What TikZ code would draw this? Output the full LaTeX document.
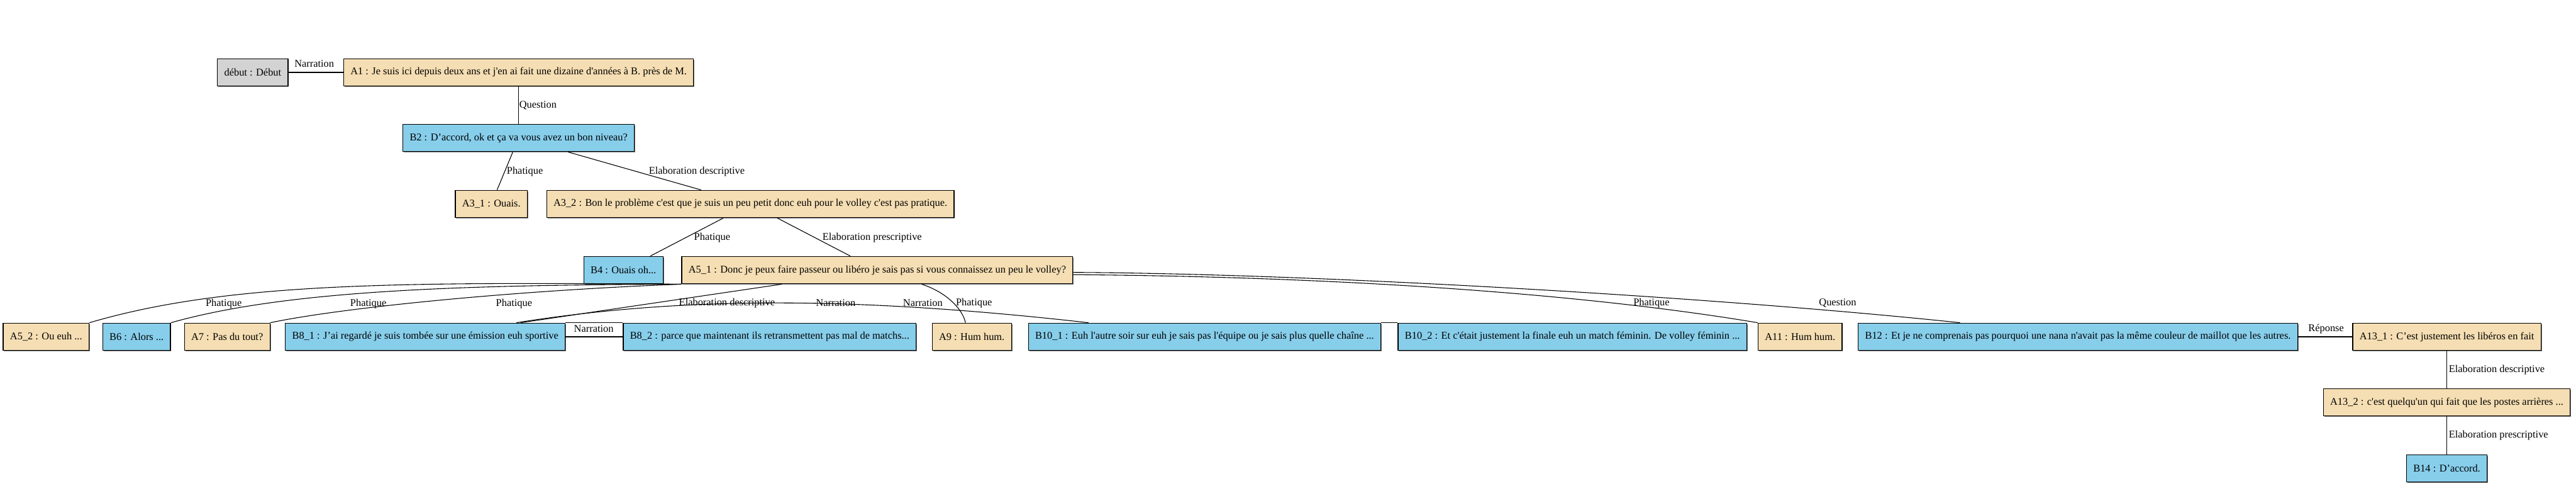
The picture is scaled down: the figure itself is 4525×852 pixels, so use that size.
\documentclass[tikz,border=0pt]{standalone}
\usepackage{fontspec}
\setmainfont{Liberation Serif}[Ligatures=TeXOff]
\usetikzlibrary{shadows}

\definecolor{wheat}{HTML}{F5DEB3}
\definecolor{skyblue}{HTML}{87CEEB}
\definecolor{gris}{HTML}{D3D3D3}

\begin{document}
\begin{tikzpicture}[x=1pt, y=-1pt, line width=1.2pt,
	every node/.style={font=\fontsize{18.1}{22}\selectfont},
	tour/.style={draw, line width=1.4pt, minimum height=48pt, inner xsep=12pt, inner ysep=0pt,
		drop shadow={shadow xshift=1.5pt, shadow yshift=-1.5pt, fill=black!55, opacity=1}},
	tourA/.style={tour, fill=wheat},
	tourB/.style={tour, fill=skyblue},
	rel/.style={inner sep=1pt}]
	\useasboundingbox (0,0) rectangle (4525,852);

	% les tours de parole
	\node[tour, fill=gris] (debut) at (444,127) {début : Début};
	\node[tourA] (a1) at (911,127) {A1 : Je suis ici depuis deux ans et j'en ai fait une dizaine d'années à B. près de M.};
	\node[tourB] (b2) at (911,242) {B2 : D’accord, ok et ça va vous avez un bon niveau?};
	\node[tourA] (a3_1) at (863,358) {A3\_1 : Ouais.};
	\node[tourA] (a3_2) at (1318,358) {A3\_2 : Bon le problème c'est que je suis un peu petit donc euh pour le volley c'est pas pratique.};
	\node[tourB] (b4) at (1095,474) {B4 : Ouais oh...};
	\node[tourA] (a5_1) at (1541,474) {A5\_1 : Donc je peux faire passeur ou libéro je sais pas si vous connaissez un peu le volley?};

	\node[tourA] (a5_2) at (81,591) {A5\_2 : Ou euh ...};
	\node[tourB] (b6) at (240,591) {B6 : Alors ...};
	\node[tourA] (a7) at (399,591) {A7 : Pas du tout?};
	\node[tourB] (b8_1) at (747,591) {B8\_1 : J’ai regardé je suis tombée sur une émission euh sportive};
	\node[tourB] (b8_2) at (1352,591) {B8\_2 : parce que maintenant ils retransmettent pas mal de matchs...};
	\node[tourA] (a9) at (1707,591) {A9 : Hum hum.};
	\node[tourB] (b10_1) at (2116,591) {B10\_1 : Euh l'autre soir sur euh je sais pas l'équipe ou je sais plus quelle chaîne ...};
	\node[tourB] (b10_2) at (2762,591) {B10\_2 : Et c'était justement la finale euh un match féminin. De volley féminin ...};
	\node[tourA] (a11) at (3162,591) {A11 : Hum hum.};
	\node[tourB] (b12) at (3650,591) {B12 : Et je ne comprenais pas pourquoi une nana n'avait pas la même couleur de maillot que les autres.};
	\node[tourA] (a13_1) at (4298,591) {A13\_1 : C’est justement les libéros en fait};
	\node[tourA] (a13_2) at (4298,706) {A13\_2 : c'est quelqu'un qui fait que les postes arrières ...};
	\node[tourB] (b14) at (4298,822) {B14 : D’accord.};

	% les relations
	\draw (debut) -- (a1);
	\draw (a1) -- (b2);
	\draw (b2) -- (a3_1);
	\draw (b2) -- (a3_2);
	\draw (a3_2) -- (b4);
	\draw (a3_2) -- (a5_1);
	\draw (a5_1.south west) .. controls (700,495) and (400,495) .. (a5_2.north east);
	\draw (a5_1.south west) .. controls (800,500) and (500,510) .. (b6.north east);
	\draw (a5_1.south west) .. controls (900,510) and (600,540) .. (a7.north east);
	\draw (a5_1) -- (b8_1);
	\draw (b8_1) -- (b8_2);
	\draw (b8_1.north east) -- (b8_2.north west);
	\draw ([xshift=160pt]b8_1.north) .. controls (1200,520) and (1500,520) .. ([xshift=-204pt]b10_1.north);
	\draw (b10_1.north east) -- (b10_2.north west);
	\draw ([xshift=78pt]a5_1.south) .. controls (1660,512) and (1690,540) .. ([xshift=-11pt]a9.north);
	\draw ([yshift=-8pt]a5_1.east) .. controls (2300,485) and (2750,510) .. (a11.north west);
	\draw ([yshift=-4pt]a5_1.east) .. controls (2300,480) and (3000,520) .. ([xshift=-207pt]b12.north);
	\draw (b12) -- (a13_1);
	\draw (a13_1) -- (a13_2);
	\draw (a13_2) -- (b14);

	% etiquettes
	\node[rel] (r_narr0) at (552,112) {Narration};
	\node[rel] (r_quest1) at (945,185) {Question};
	\node[rel] (r_phat2) at (922,301) {Phatique};
	\node[rel] (r_elab2) at (1224,301) {Elaboration descriptive};
	\node[rel] (r_phat3) at (1251,417) {Phatique};
	\node[rel] (r_elab3) at (1532,417) {Elaboration prescriptive};
	\node[rel] (r_phat5a) at (393,533) {Phatique};
	\node[rel] (r_phat5b) at (647,533) {Phatique};
	\node[rel] (r_phat5c) at (903,533) {Phatique};
	\node[rel] (r_elab5) at (1277,532) {Elaboration descriptive};
	\node[rel] (r_narr8a) at (1468,532) {Narration};
	\node[rel] (r_narr8b) at (1621,532) {Narration};
	\node[rel] (r_phat9) at (1711,532) {Phatique};
	\node[rel, fill=white] (r_narr8) at (1043,577) {Narration};
	\node[rel] (r_phat11) at (2901,532) {Phatique};
	\node[rel] (r_quest12) at (3228,532) {Question};
	\node[rel] (r_rep13) at (4086,577) {Réponse};
	\node[rel, anchor=west] (r_elab13) at (4300,649) {Elaboration descriptive};
	\node[rel, anchor=west] (r_elab14) at (4300,764) {Elaboration prescriptive};
\end{tikzpicture}
\end{document}
